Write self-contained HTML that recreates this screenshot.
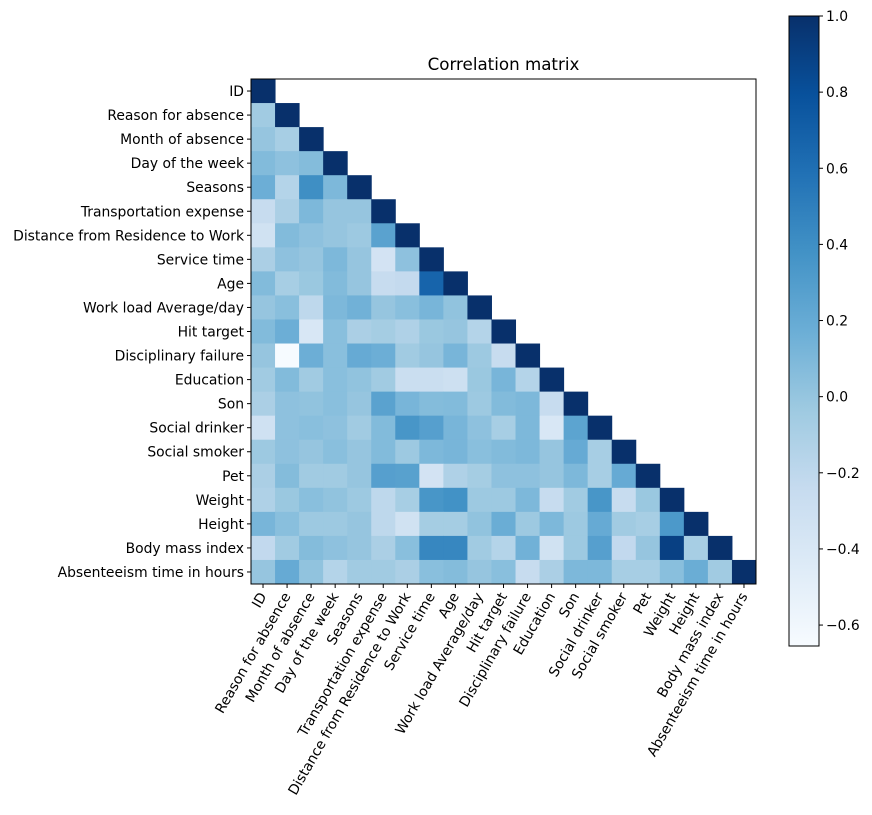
<!DOCTYPE html>
<html><head><meta charset="utf-8"><style>
body{margin:0;background:#fff;}
svg text{font-family:"DejaVu Sans","Liberation Sans",sans-serif;font-size:13.9px;fill:#000;}
</style></head><body>
<svg id="chart" width="872" height="810" xmlns="http://www.w3.org/2000/svg"></svg>
<script>
const labels=["ID","Reason for absence","Month of absence","Day of the week","Seasons","Transportation expense","Distance from Residence to Work","Service time","Age","Work load Average/day ","Hit target","Disciplinary failure","Education","Son","Social drinker","Social smoker","Pet","Weight","Height","Body mass index","Absenteeism time in hours"];
const lowerRows=[
[],
[-0.05],
[0.0,-0.08],
[0.08,0.03,0.07],
[0.17,-0.15,0.4,0.1],
[-0.25,-0.1,0.1,0.0,0.0],
[-0.33,0.08,0.03,0.0,-0.03,0.26],
[-0.1,0.03,0.0,0.1,0.0,-0.35,0.03],
[0.08,-0.08,-0.02,0.08,0.0,-0.25,-0.23,0.67],
[0.0,0.05,-0.2,0.1,0.15,0.0,0.05,0.12,0.02],
[0.08,0.17,-0.4,0.05,-0.1,-0.07,-0.12,-0.02,0.0,-0.15],
[0.0,-0.65,0.17,0.05,0.2,0.17,-0.05,0.0,0.12,-0.03,-0.25],
[-0.05,0.08,-0.05,0.05,0.02,-0.05,-0.28,-0.28,-0.3,-0.02,0.12,-0.15],
[-0.1,0.03,0.02,0.05,0.0,0.26,0.12,0.07,0.08,-0.03,0.08,0.1,-0.25],
[-0.32,0.03,0.05,0.03,-0.05,0.08,0.35,0.28,0.12,0.03,-0.08,0.1,-0.4,0.25],
[-0.03,0.03,0.0,0.05,0.0,0.08,-0.03,0.1,0.12,0.05,0.08,0.1,0.0,0.2,-0.08],
[-0.1,0.07,-0.05,-0.05,0.0,0.28,0.27,-0.35,-0.12,-0.07,0.03,0.03,0.0,0.1,-0.08,0.2],
[-0.12,-0.02,0.05,0.02,-0.03,-0.2,-0.08,0.35,0.38,-0.03,-0.03,0.1,-0.25,-0.05,0.35,-0.25,-0.02],
[0.12,0.05,-0.03,-0.03,0.0,-0.2,-0.33,-0.07,-0.07,0.02,0.18,-0.03,0.1,-0.03,0.2,-0.05,-0.08,0.33],
[-0.22,-0.05,0.07,0.03,0.0,-0.1,0.05,0.45,0.45,-0.05,-0.15,0.15,-0.33,-0.03,0.28,-0.22,0.0,0.9,-0.08],
[0.0,0.2,0.02,-0.15,-0.05,-0.05,-0.1,0.05,0.07,0.0,0.05,-0.25,-0.1,0.1,0.1,-0.08,-0.08,0.05,0.18,-0.05]
];
const cbTicks=[1.0,0.8,0.6,0.4,0.2,0.0,-0.2,-0.4,-0.6];
const vmin=-0.655,vmax=1.0;
const stops=["#f7fbff","#deebf7","#c6dbef","#9ecae1","#6baed6","#4292c6","#2171b5","#08519c","#08306b"];
function hx(c){return [parseInt(c.slice(1,3),16),parseInt(c.slice(3,5),16),parseInt(c.slice(5,7),16)];}
function cmap(v){let t=(v-vmin)/(vmax-vmin);t=Math.max(0,Math.min(1,t))*8;const i=Math.min(7,Math.floor(t)),f=t-i;const a=hx(stops[i]),b=hx(stops[i+1]);return `rgb(${a.map((x,k)=>Math.round(x+(b[k]-x)*f)).join(',')})`;}
const NS="http://www.w3.org/2000/svg",svg=document.getElementById('chart');
function el(t,a,p){const e=document.createElementNS(NS,t);for(const k in a)e.setAttribute(k,a[k]);(p||svg).appendChild(e);return e;}
const X0=251,Y0=79,W=505,n=labels.length,cs=W/n;
const xS=i=>X0+i*cs, yS=i=>Y0+i*cs;
const t=el('text',{x:X0+W/2,y:70,'text-anchor':'middle',style:'font-size:16.7px'});t.textContent='Correlation matrix';


const g=el('g',{});


for(let r=0;r<n;r++){for(let c=0;c<=r;c++){const v=c===r?1:lowerRows[r][c];
const rc=el('rect',{x:xS(c),y:yS(r),width:cs+0.5,height:cs+0.5,fill:cmap(v)},g);

}}
const fr=el('rect',{x:X0,y:Y0,width:W,height:W,fill:'none',stroke:'#000','stroke-width':1});


labels.forEach((l,i)=>{const cy=yS(i)+cs/2,cx=xS(i)+cs/2;
el('line',{x1:X0,x2:X0-4,y1:cy,y2:cy,stroke:'#000'});
const yl=el('text',{x:X0-7,y:cy+5,'text-anchor':'end'});yl.textContent=l;


el('line',{x1:cx,x2:cx,y1:Y0+W,y2:Y0+W+4,stroke:'#000'});
const xl=el('text',{x:cx+4,y:Y0+W+12,'text-anchor':'end',transform:`rotate(-60 ${cx+4} ${Y0+W+12})`});xl.textContent=l;

});
const CX=789,CY=16,CW=30,CH=630;
const defs=el('defs',{});const lg=el('linearGradient',{id:'cbg',x1:0,y1:1,x2:0,y2:0},defs);
stops.forEach((s,i)=>el('stop',{offset:i/8,'stop-color':s},lg));
const cb=el('rect',{x:CX,y:CY,width:CW,height:CH,fill:'url(#cbg)',stroke:'#000','stroke-width':1});


const cy=v=>CY+CH*(vmax-v)/(vmax-vmin);
cbTicks.forEach(v=>{const y=cy(v);el('line',{x1:CX+CW,x2:CX+CW+4,y1:y,y2:y,stroke:'#000'});
const tl=el('text',{x:CX+CW+7,y:y+5});tl.textContent=v.toFixed(1).replace('-','\u2212');

});
</script>
</body></html>
